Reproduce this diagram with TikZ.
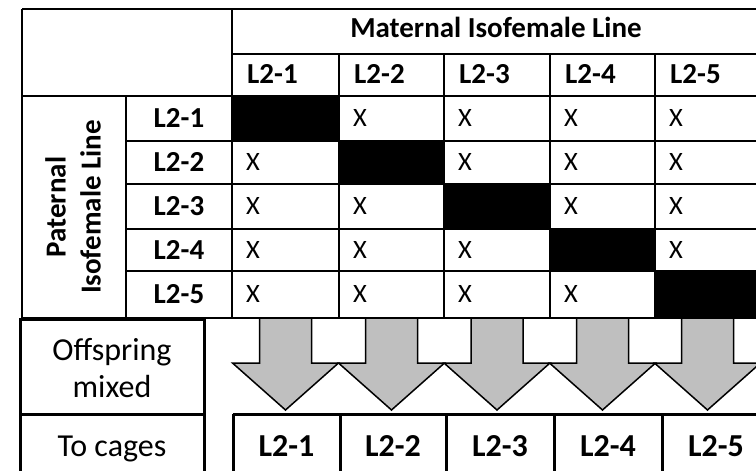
\documentclass[tikz,border=0pt]{standalone}
\usepackage{fontspec}
\setmainfont{Carlito}
\definecolor{arrowgray}{HTML}{BFBFBF}
\begin{document}
\begin{tikzpicture}[x=1pt,y=-1pt,
  grid/.style={line width=1.6pt},
  heavy/.style={line width=3pt},
  hdr/.style={font=\bfseries\fontsize{29}{35}\selectfont,inner sep=0pt,anchor=base},
  xmark/.style={font=\fontsize{26.5}{31}\selectfont,inner sep=0pt,anchor=base west},
  bigtxt/.style={font=\fontsize{32}{37}\selectfont,inner sep=0pt,align=center},
  cagelbl/.style={font=\bfseries\fontsize{32}{38}\selectfont,inner sep=0pt,anchor=base},
  flow/.style={draw=black,fill=arrowgray,line width=1.5pt,line join=miter},
]
\useasboundingbox (0,0) rectangle (756,471);
\clip (0,0) rectangle (756,471);

% diagonal (self-cross) cells
\foreach \xa/\xb/\ya/\yb in {232/339/96/141, 339/444/141/184, 444/550/184/229, 550/655/229/271, 655/760/271/318}
  \fill (\xa,\ya) rectangle (\xb,\yb);

% crossing table grid
\draw[grid] (22,9) -- (760,9);
\draw[grid] (232,54) -- (760,54);
\draw[grid] (22,96) -- (760,96);
\foreach \y in {141,184,229,271} \draw[grid] (126,\y) -- (760,\y);
\draw[grid] (22,318) -- (760,318);
\draw[grid] (22,9) -- (22,318);
\draw[grid] (126,96) -- (126,318);
\draw[grid] (232,9) -- (232,318);
\foreach \x in {339,444,550,655} \draw[grid] (\x,54) -- (\x,318);

% headers
\node[hdr] (mat) at (496,37) {Maternal Isofemale Line};
\foreach \i/\x in {1/232,2/339,3/444,4/550,5/655}
  \node[hdr,anchor=base west] (col\i) at (\x+15,83) {L2-\i};
\node[font=\bfseries\fontsize{29}{35}\selectfont,align=center,rotate=90,inner sep=0pt] (pat) at (73,207) {Paternal\\Isofemale Line};
\foreach \i/\yc in {1/118.5,2/162.5,3/206.5,4/250,5/294.5}
  \node[hdr] (row\i) at (179,\yc+9) {L2-\i};

% crosses (row/column/cell left/row centre)
\foreach \n/\x/\yc in {
    12/339/118.5, 13/444/118.5, 14/550/118.5, 15/655/118.5,
    21/232/162.5, 23/444/162.5, 24/550/162.5, 25/655/162.5,
    31/232/206.5, 32/339/206.5, 34/550/206.5, 35/655/206.5,
    41/232/250,   42/339/250,   43/444/250,   45/655/250,
    51/232/294.5, 52/339/294.5, 53/444/294.5, 54/550/294.5}
  \node[xmark] (x\n) at (\x+14,\yc+8) {X};

% arrows down to the cages
\foreach \i/\cx in {1/285.5,2/391.5,3/497,4/602.5,5/707.5}
  \draw[flow] (\cx-26,318) -- (\cx+26,318) -- (\cx+26,363) -- (\cx+53,363)
    -- (\cx,410) -- (\cx-53,363) -- (\cx-26,363) -- cycle;

% left-hand step boxes
\draw[heavy] (20,319.5) rectangle (204,414);
\draw[heavy] (20,414) -- (20,480);
\draw[heavy] (204,414) -- (204,480);
\node[bigtxt] (mix) at (112,368) {Offspring\\mixed};
\node[bigtxt,anchor=base] (cages) at (112,456) {To cages};

% cage row
\draw[heavy] (233,414) -- (760,414);
\foreach \x in {233,340,446,554,662} \draw[heavy] (\x,414) -- (\x,480);
\foreach \i/\cx in {1/286.5,2/393,3/500,4/608,5/716}
  \node[cagelbl] (cage\i) at (\cx,456) {L2-\i};
\end{tikzpicture}
\end{document}
